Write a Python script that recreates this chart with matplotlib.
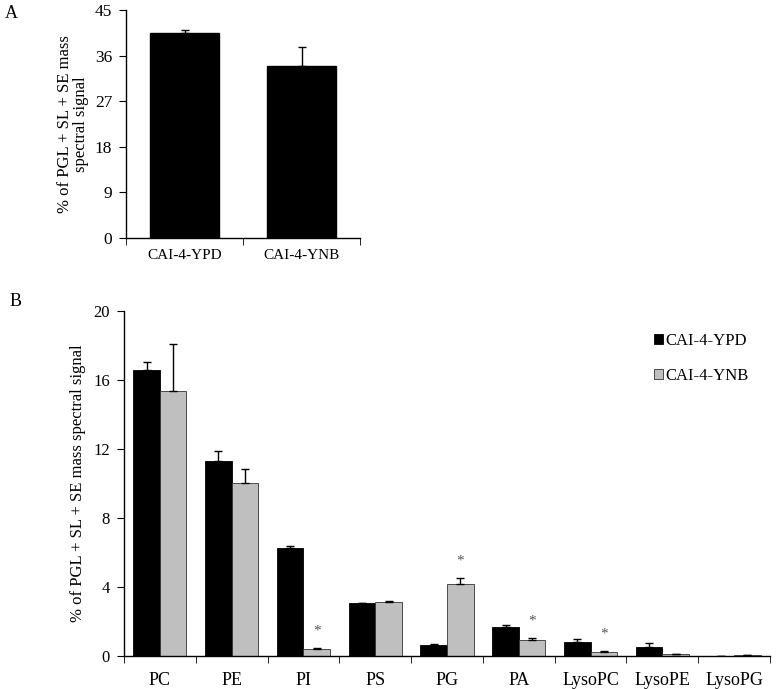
import numpy as np
from matplotlib import pyplot as plt
from matplotlib.ticker import FixedLocator, NullFormatter

# panel A
strains = ["CAI-4-YPD", "CAI-4-YNB"]
total_mean = [40.5, 33.9]
total_err = [0.5, 3.7]

# panel B
lipids = ["PC", "PE", "PI", "PS", "PG", "PA", "LysoPC", "LysoPE", "LysoPG"]
ypd_mean = [16.55, 11.29, 6.26, 3.07, 0.60, 1.66, 0.79, 0.48, 0.0]
ypd_err = [0.45, 0.56, 0.10, 0.0, 0.06, 0.14, 0.18, 0.28, 0.0]
ynb_mean = [15.36, 9.99, 0.39, 3.10, 4.14, 0.89, 0.21, 0.12, 0.05]
ynb_err = [2.74, 0.85, 0.07, 0.09, 0.35, 0.15, 0.08, 0.0, 0.0]
significant = ["PI", "PG", "PA", "LysoPC"]

plt.rcParams['font.family'] = ['Liberation Serif', 'DejaVu Serif']
plt.rcParams['axes.linewidth'] = 1.0

grey = "#bfbfbf"
edge = "#333333"
ylabel = "% of PGL + SL + SE mass spectral signal"


def style_axis(ax, n, xsize, ysize, xpad):
    ax.spines['top'].set_visible(False)
    ax.spines['right'].set_visible(False)
    ax.set_xlim(-0.5, n - 0.5)
    ax.set_xticks(np.arange(n))
    ax.xaxis.set_minor_locator(FixedLocator(np.arange(n + 1) - 0.5))
    ax.xaxis.set_minor_formatter(NullFormatter())
    ax.tick_params(axis='x', which='major', length=0, pad=xpad, labelsize=xsize)
    ax.tick_params(axis='x', which='minor', length=5, direction='out')
    ax.tick_params(axis='y', length=5, direction='out', pad=5, labelsize=ysize)


def main():
    fig = plt.figure(figsize=(7.76, 6.89), dpi=100)

    ax_a = fig.add_axes([0.1624, 0.6546, 0.302, 0.331])
    xa = np.arange(len(strains))
    ax_a.bar(xa, total_mean, width=0.59, color='black', edgecolor='black',
             yerr=[np.zeros(len(total_err)), total_err], capsize=3,
             error_kw=dict(elinewidth=1, capthick=1, ecolor='black'))
    ax_a.set_ylim(0, 45)
    ax_a.set_yticks(np.arange(0, 46, 9))
    ax_a.set_xticklabels(strains)
    ax_a.set_ylabel("% of PGL + SL + SE mass\nspectral signal", fontsize=12,
                    labelpad=4, linespacing=1.05)
    style_axis(ax_a, len(strains), 11, 12.5, 8)
    fig.text(0.006, 0.981, "A", fontsize=13, va='center')

    ax_b = fig.add_axes([0.1598, 0.0483, 0.8325, 0.5007])
    xb = np.arange(len(lipids))
    w = 0.37
    zeros = np.zeros(len(lipids))
    ekw = dict(elinewidth=1, capthick=1, ecolor='black')
    ax_b.bar(xb - w / 2, ypd_mean, width=w, color='black', edgecolor='black',
             linewidth=0.6, yerr=[zeros, ypd_err], capsize=3, error_kw=ekw,
             label="CAI-4-YPD")
    ax_b.bar(xb + w / 2, ynb_mean, width=w, color=grey, edgecolor=edge,
             linewidth=0.6, yerr=[zeros, ynb_err], capsize=3, error_kw=ekw,
             label="CAI-4-YNB")
    for name in significant:
        i = lipids.index(name)
        ax_b.text(i + w / 2, ynb_mean[i] + ynb_err[i] + 0.6, "*",
                  ha='center', va='bottom', fontsize=11, color='#555555')
    ax_b.set_ylim(0, 20)
    ax_b.set_yticks(np.arange(0, 21, 4))
    ax_b.set_xticklabels(lipids)
    ax_b.set_ylabel(ylabel, fontsize=12, labelpad=5)
    style_axis(ax_b, len(lipids), 13, 12, 12)
    ax_b.legend(loc='upper right', bbox_to_anchor=(0.99, 0.98), frameon=False,
                handlelength=0.55, handleheight=0.55, handletextpad=0.15,
                labelspacing=1.15, fontsize=12)
    fig.text(0.012, 0.562, "B", fontsize=13, va='center')

    fig.savefig("out.png", dpi=100)


if __name__ == "__main__":
    main()
